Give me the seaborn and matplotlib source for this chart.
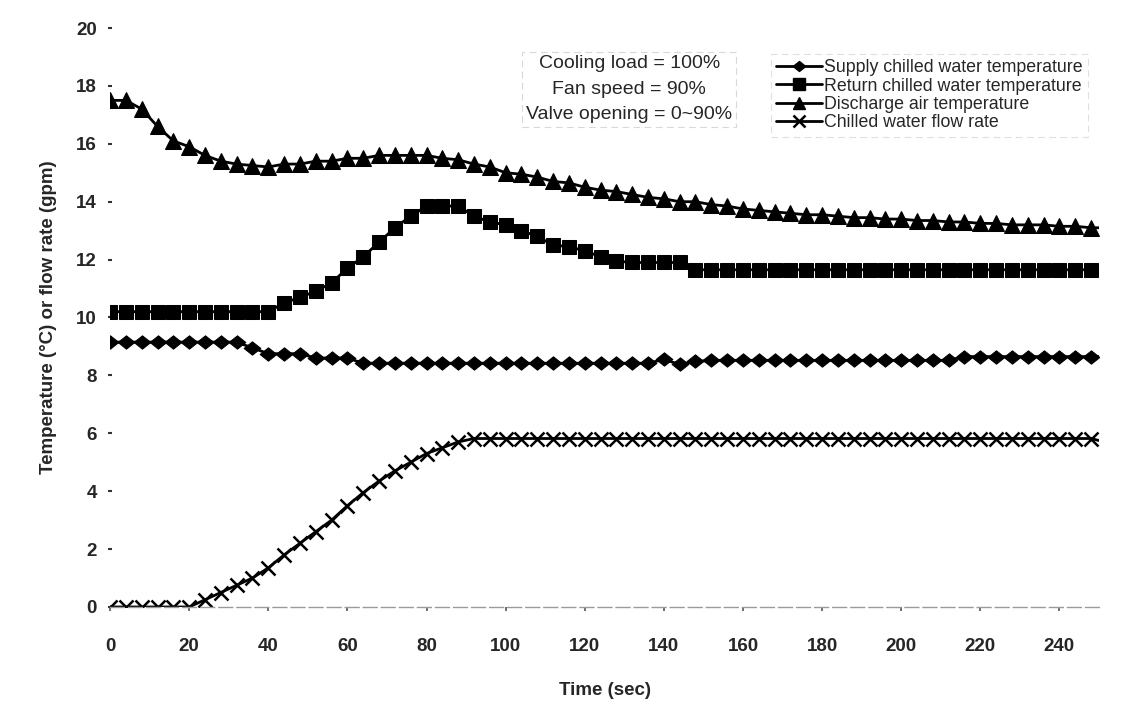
import numpy as np
import pandas as pd
import matplotlib
matplotlib.use("Agg")
import matplotlib.pyplot as plt
from matplotlib.path import Path
from matplotlib.lines import Line2D
import seaborn as sns

# Sampling times (s): one reading every 4 s, plus the end of the record at 250 s
time_s = list(range(0, 249, 4)) + [250]

supply_chw = ([9.15] * 9 + [8.95] + [8.75] * 3 + [8.6] * 3 + [8.42] * 19
              + [8.55, 8.38, 8.48] + [8.52] * 16 + [8.65] * 9 + [8.65])

return_chw = ([10.2] * 11
              + [10.5, 10.7, 10.9, 11.2, 11.7, 12.1, 12.6, 13.1, 13.5, 13.85, 13.85,
                 13.85, 13.5, 13.3, 13.2, 13.0, 12.8, 12.5, 12.45, 12.3, 12.1, 11.95]
              + [11.9] * 4 + [11.65] * 26 + [11.65])

discharge_air = [17.5, 17.5, 17.2, 16.6, 16.1, 15.9, 15.6, 15.4, 15.3, 15.25,
                 15.2, 15.3, 15.3, 15.4, 15.4, 15.5, 15.5, 15.6, 15.6, 15.6,
                 15.6, 15.5, 15.45, 15.3, 15.2, 15.0, 14.95, 14.85, 14.7, 14.65,
                 14.5, 14.4, 14.35, 14.25, 14.15, 14.1, 14.0, 14.0, 13.9, 13.85,
                 13.75, 13.7, 13.65, 13.6, 13.55, 13.55, 13.5, 13.45, 13.45, 13.4,
                 13.4, 13.35, 13.35, 13.3, 13.3, 13.25, 13.25, 13.2, 13.2, 13.2,
                 13.15, 13.15, 13.1, 13.1]

chw_flow = ([0.0] * 6
            + [0.25, 0.5, 0.75, 1.0, 1.35, 1.8, 2.2, 2.6, 3.0, 3.5, 3.95, 4.35,
               4.7, 5.0, 5.3, 5.5, 5.7]
            + [5.82] * 40 + [5.75])

series_names = ["Supply chilled water temperature",
                "Return chilled water temperature",
                "Discharge air temperature",
                "Chilled water flow rate"]
x_ticks = list(range(0, 241, 20))
y_ticks = list(range(0, 21, 2))
note_lines = ["Cooling load = 100%", "Fan speed = 90%", "Valve opening = 0~90%"]

sns.set_theme(style="white")
plt.rcParams["font.family"] = ["Liberation Sans", "DejaVu Sans"]

fig = plt.figure(figsize=(11.23, 7.11), dpi=100)
ax = fig.add_axes([0.098, 0.1463, 0.8806, 0.8143])

# a slightly flattened diamond
diamond = Path([(-1, 0), (0, 0.8), (1, 0), (0, -0.8), (-1, 0)],
               [Path.MOVETO, Path.LINETO, Path.LINETO, Path.LINETO, Path.CLOSEPOLY])

styles = [
    dict(marker=diamond, markersize=12),
    dict(marker="s", markersize=10.6),
    dict(marker="^", markersize=11.5),
    dict(marker="x", markersize=10, markeredgewidth=1.8),
]
legend_sizes = [9, 9, 9, 8]
values = [supply_chw, return_chw, discharge_air, chw_flow]
n_marked = len(time_s) - 1

for name, vals, st in zip(series_names, values, styles):
    df = pd.DataFrame({"Time": time_s, "Value": vals})
    sns.lineplot(data=df, x="Time", y="Value", ax=ax, color="black",
                 linewidth=2.0, markeredgecolor="black", markerfacecolor="black",
                 markevery=list(range(n_marked)), legend=False, **st)

ax.set_xlim(0, 250)
ax.set_ylim(0, 20)
ax.set_xticks(x_ticks)
ax.set_yticks(y_ticks)
for lab in ax.get_xticklabels() + ax.get_yticklabels():
    lab.set_fontweight("bold")
ax.tick_params(axis="x", direction="out", length=3, width=1.2, color="#555555",
               pad=19, labelsize=13.5, bottom=True)
ax.tick_params(axis="y", direction="inout", length=3, width=1.5, color="#333333",
               pad=8, labelsize=13.5, left=True)

for side in ["top", "right", "left"]:
    ax.spines[side].set_visible(False)
ax.spines["bottom"].set_color("#9a9a9a")
ax.spines["bottom"].set_linewidth(1.0)
ax.spines["bottom"].set_linestyle((0, (10, 3)))

ax.set_xlabel("Time (sec)", fontsize=13.5, fontweight="bold", labelpad=20)
ax.set_ylabel("Temperature (°C) or flow rate (gpm)", fontsize=13.5,
              fontweight="bold", labelpad=14)

# legend keys: one marker centred on a short line
handles = []
for st, ms in zip(styles, legend_sizes):
    kw = dict(st)
    kw["markersize"] = ms
    handles.append(Line2D([], [], color="black", linewidth=2.0,
                          markerfacecolor="black", markeredgecolor="black", **kw))
leg = fig.legend(handles, series_names, loc="upper left",
                 bbox_to_anchor=(762 / 1123, 1 - 45 / 711), numpoints=1,
                 fontsize=12.8, frameon=True, handlelength=2.6, handletextpad=0.1,
                 labelspacing=0.08, borderpad=0.3, fancybox=False)
leg.get_frame().set_edgecolor("#d8d8d8")
leg.get_frame().set_linewidth(0.8)
leg.get_frame().set_linestyle((0, (6, 4)))

ax.text(0.525, 0.894, "\n".join(note_lines), transform=ax.transAxes,
        ha="center", va="center", fontsize=14, linespacing=1.65,
        bbox=dict(boxstyle="square,pad=0.2", facecolor="white",
                  edgecolor="#d8d8d8", linewidth=0.8, linestyle=(0, (6, 4))))

fig.savefig("out.png", dpi=100, facecolor="white")
